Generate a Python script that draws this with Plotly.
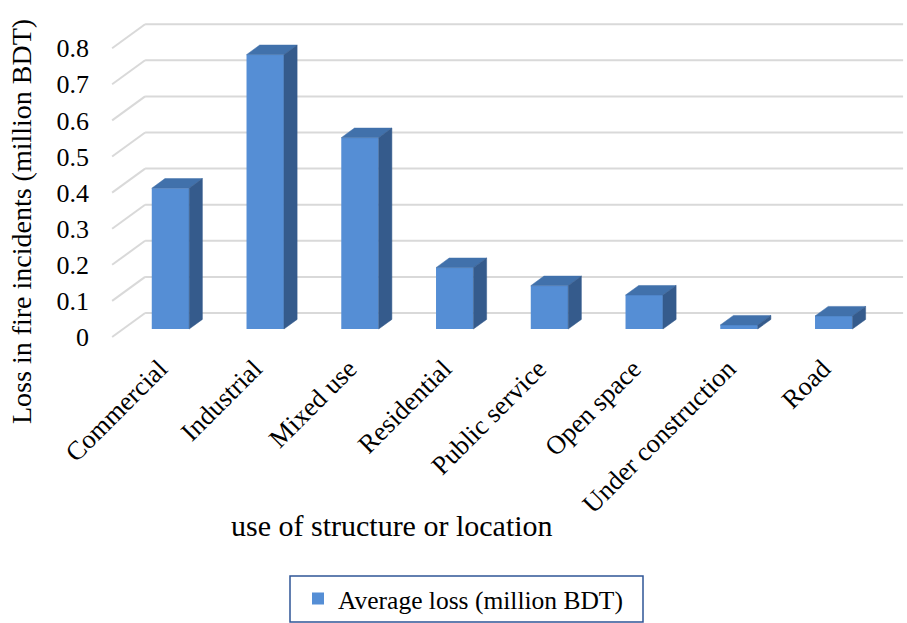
import plotly.graph_objects as go

# ---- data ----
categories = ["Commercial", "Industrial", "Mixed use", "Residential",
              "Public service", "Open space", "Under construction", "Road"]
avg_loss = [0.39, 0.76, 0.53, 0.17, 0.12, 0.094, 0.011, 0.036]
y_ticks = [0, 0.1, 0.2, 0.3, 0.4, 0.5, 0.6, 0.7, 0.8]
y_tick_labels = ["0", "0.1", "0.2", "0.3", "0.4", "0.5", "0.6", "0.7", "0.8"]
series_name = "Average loss (million BDT)"

# ---- pseudo-3D projection settings (layout, not data) ----
DX = 0.348     # depth offset along x (category units) from front plane to back wall
DY = 0.0665    # depth offset along y (value units)
D0, D1 = 0.333, 0.733   # bar front / back depth fractions
BAR_W = 0.395
FRONT = "#558ED5"
TOP = "#4171AB"
SIDE = "#355B8C"
GRID = "#D9D9D9"
FONT = "Liberation Serif"

W, H = 907, 623
ML, MR, MT, MB = 100, 0, 0, 278
# pixel calibration
x_px0, x_scale = 159.5, 94.75
y_px0, y_scale = 337.0, 361.0
plot_w = W - ML - MR
plot_h = H - MT - MB
x_range = [(ML - x_px0) / x_scale, (ML + plot_w - x_px0) / x_scale]
y_range = [(y_px0 - (MT + plot_h)) / y_scale, (y_px0 - MT) / y_scale]


def px_to_paper_x(px):
    return (px - ML) / plot_w


def px_to_paper_y(py):
    return 1 - (py - MT) / plot_h


n = len(categories)
xs = list(range(n))
fx = [i + D0 * DX for i in xs]          # front-face centres
base0 = D0 * DY
bdx = (D1 - D0) * DX
bdy = (D1 - D0) * DY

fig = go.Figure()

# back-wall gridlines and left wall diagonals as shapes below traces
floor_left, floor_right = -0.5, n - 0.5
shapes = []
for v in y_ticks:
    shapes.append(dict(type="line", xref="x", yref="y", layer="below",
                       x0=floor_left, y0=v, x1=floor_left + DX, y1=v + DY,
                       line=dict(color=GRID, width=2)))
    shapes.append(dict(type="line", xref="x", yref="y", layer="below",
                       x0=floor_left + DX, y0=v + DY, x1=floor_right + DX, y1=v + DY,
                       line=dict(color=GRID, width=2)))

# legend frame
shapes.append(dict(type="rect", xref="paper", yref="paper", layer="above",
                   x0=px_to_paper_x(290), x1=px_to_paper_x(643),
                   y0=px_to_paper_y(576), y1=px_to_paper_y(622),
                   line=dict(color="#2F5597", width=1.5), fillcolor="rgba(0,0,0,0)"))

# front faces
fig.add_trace(go.Bar(
    x=fx, y=avg_loss, base=[base0] * n, width=BAR_W,
    marker=dict(color=FRONT, line=dict(width=0)),
    name=series_name, showlegend=True, hoverinfo="skip"))

# top and side faces
for cx, v in zip(fx, avg_loss):
    xl, xr = cx - BAR_W / 2, cx + BAR_W / 2
    top = base0 + v
    fig.add_trace(go.Scatter(
        x=[xl, xr, xr + bdx, xl + bdx, xl],
        y=[top, top, top + bdy, top + bdy, top],
        fill="toself", fillcolor=TOP, mode="lines",
        line=dict(color=TOP, width=0.5), showlegend=False, hoverinfo="skip"))
    fig.add_trace(go.Scatter(
        x=[xr, xr, xr + bdx, xr + bdx, xr],
        y=[base0, top, top + bdy, base0 + bdy, base0],
        fill="toself", fillcolor=SIDE, mode="lines",
        line=dict(color=SIDE, width=0.5), showlegend=False, hoverinfo="skip"))

fig.update_layout(
    width=W, height=H,
    margin=dict(l=ML, r=MR, t=MT, b=MB),
    paper_bgcolor="white", plot_bgcolor="white",
    font=dict(family=FONT, size=24, color="black"),
    shapes=shapes,
    xaxis=dict(range=x_range, tickmode="array", tickvals=xs, ticktext=categories,
               tickangle=-45, showgrid=False, zeroline=False, showline=False,
               ticks="", ticklabelstandoff=2,
               tickfont=dict(family=FONT, size=26.5, color="black")),
    yaxis=dict(range=y_range, tickmode="array", tickvals=y_ticks, ticktext=y_tick_labels,
               showgrid=False, zeroline=False, showline=False, ticks="",
               ticklabelstandoff=10,
               tickfont=dict(family=FONT, size=26, color="black")),
    showlegend=True,
    legend=dict(orientation="h", xref="container", yref="container",
                x=(298 / W), xanchor="left", y=1 - 599 / H, yanchor="middle",
                borderwidth=0, bgcolor="rgba(0,0,0,0)",
                font=dict(family=FONT, size=25.5, color="black"), itemclick=False),
    annotations=[
        dict(text="use of structure or location", xref="paper", yref="paper",
             x=px_to_paper_x(392), y=px_to_paper_y(525),
             showarrow=False, font=dict(family=FONT, size=30, color="black"),
             xanchor="center", yanchor="middle"),
        dict(text="Loss in fire incidents (million BDT)", xref="paper", yref="paper",
             x=px_to_paper_x(22), y=px_to_paper_y(222), textangle=-90,
             showarrow=False, font=dict(family=FONT, size=28, color="black"),
             xanchor="center", yanchor="middle"),
    ],
)

fig.write_html("out.html")
